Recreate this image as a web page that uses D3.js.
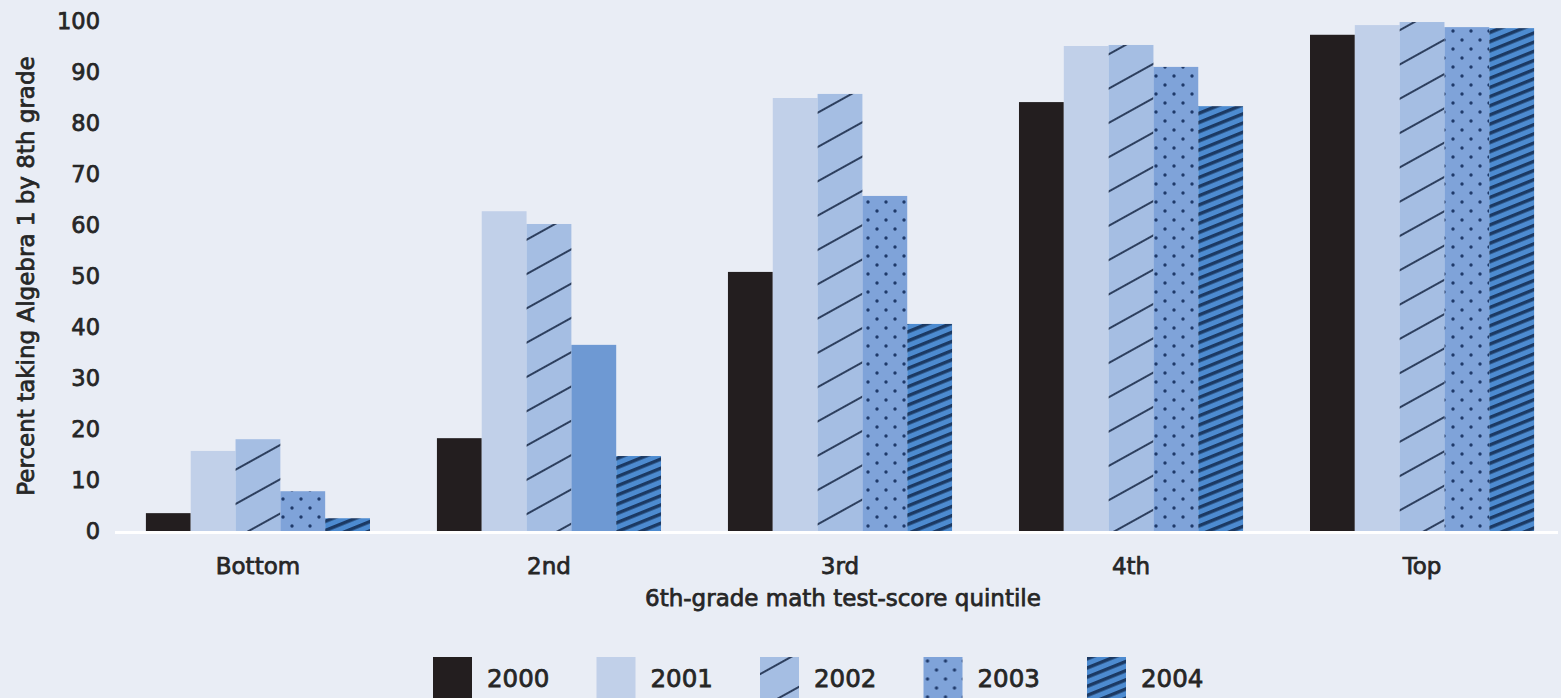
<!DOCTYPE html>
<html>
<head>
<meta charset="utf-8">
<script src="https://cdn.jsdelivr.net/npm/d3@7"></script>
<style>
  html, body { margin: 0; padding: 0; background: #e9edf5; }
  svg { display: block; }
  text { font-family: "DejaVu Sans", "Open Sans", sans-serif; fill: #262626; stroke: #262626; stroke-width: 0.75px; }
</style>
</head>
<body>
<div id="chart"></div>
<script>
var quintiles = ['Bottom', '2nd', '3rd', '4th', 'Top'];
var years = ['2000', '2001', '2002', '2003', '2004'];
var values2000 = [3.5, 18.2, 50.8, 84.1, 97.3];
var values2001 = [15.7, 62.7, 84.9, 95.1, 99.2];
var values2002 = [18.0, 60.2, 85.7, 95.3, 99.8];
var values2003 = [7.8, 36.5, 65.7, 91.0, 98.8];
var values2004 = [2.5, 14.7, 40.6, 83.3, 98.6];
var yTicks = [0, 10, 20, 30, 40, 50, 60, 70, 80, 90, 100];
// in the original the 2003 bar of the 2nd quintile has no dots
var plainBars = [['2nd', '2003']];

var series = [values2000, values2001, values2002, values2003, values2004];
var rows = [];
quintiles.forEach(function(q, i){
	years.forEach(function(y, j){
		rows.push({q: q, year: y, value: series[j][i]});
	});
});

var width = 1561, height = 698;

var svg = d3.select('#chart').append('svg')
	.attr('width', width)
	.attr('height', height);

var defs = svg.append('defs');

// 2002: light blue with thin dark diagonals
var p2 = defs.append('pattern')
	.attr('id', 'pat2002')
	.attr('patternUnits', 'userSpaceOnUse')
	.attr('width', 30).attr('height', 30)
	.attr('patternTransform', 'rotate(-29)');
p2.append('rect').attr('width', 30).attr('height', 30).attr('fill', '#a5bee3');
p2.append('line').attr('x1', 0).attr('x2', 30).attr('y1', 15).attr('y2', 15)
	.attr('stroke', '#2d3f5e').attr('stroke-width', 2);

// 2003: mid blue with staggered dots
var p3 = defs.append('pattern')
	.attr('id', 'pat2003')
	.attr('patternUnits', 'userSpaceOnUse')
	.attr('width', 18).attr('height', 18);
p3.append('rect').attr('width', 18).attr('height', 18).attr('fill', '#7fa3d9');
[[4, 4], [13, 13]].forEach(function(c){
	p3.append('circle').attr('cx', c[0]).attr('cy', c[1]).attr('r', 1.7).attr('fill', '#1f3a6a');
});

// 2004: blue with dense dark stripes
var p4 = defs.append('pattern')
	.attr('id', 'pat2004')
	.attr('patternUnits', 'userSpaceOnUse')
	.attr('width', 8.5).attr('height', 8.5)
	.attr('patternTransform', 'rotate(-22)');
p4.append('rect').attr('width', 8.5).attr('height', 8.5).attr('fill', '#4d8bd0');
p4.append('rect').attr('y', 0).attr('width', 8.5).attr('height', 3.4).attr('fill', '#1b3963');

var fills = {
	'2000': '#231e1f',
	'2001': '#c1d0e9',
	'2002': 'url(#pat2002)',
	'2003': 'url(#pat2003)',
	'2004': 'url(#pat2004)'
};
var plainFill = '#6e99d3';

var x0 = d3.scaleBand()
	.domain(quintiles)
	.range([120, 1560])
	.paddingInner(0.23)
	.paddingOuter(0.089);

var x1 = d3.scaleBand()
	.domain(years)
	.range([0, x0.bandwidth()]);

var y = d3.scaleLinear()
	.domain([0, 100])
	.range([531, 21]);

// baseline
svg.append('line')
	.attr('x1', 115).attr('x2', 1558)
	.attr('y1', y(0) + 1.5).attr('y2', y(0) + 1.5)
	.attr('stroke', '#ffffff')
	.attr('stroke-width', 3);

// bars
svg.append('g').selectAll('rect')
	.data(rows)
	.enter()
	.append('rect')
	.attr('x', function(d){ return x0(d.q) + x1(d.year); })
	.attr('y', function(d){ return y(d.value); })
	.attr('width', x1.bandwidth())
	.attr('height', function(d){ return y(0) - y(d.value); })
	.attr('fill', function(d){
		var plain = plainBars.some(function(p){ return p[0] == d.q && p[1] == d.year; });
		return plain ? plainFill : fills[d.year];
	});

// y axis
var yAxis = svg.append('g')
	.attr('transform', 'translate(101,0)')
	.call(d3.axisLeft(y).tickValues(yTicks).tickSize(0).tickPadding(1));
yAxis.select('.domain').remove();
yAxis.selectAll('text')
	.style('font-family', '"DejaVu Sans", sans-serif')
	.style('font-size', '22.5px')
	.style('fill', '#262626');

// x axis
var xAxis = svg.append('g')
	.attr('transform', 'translate(0,' + y(0) + ')')
	.call(d3.axisBottom(x0).tickSize(0).tickPadding(27));
xAxis.select('.domain').remove();
xAxis.selectAll('text')
	.style('font-family', '"DejaVu Sans", sans-serif')
	.style('font-size', '23px')
	.style('fill', '#262626');

svg.append('text')
	.attr('x', 843)
	.attr('y', 606)
	.attr('text-anchor', 'middle')
	.style('font-size', '23px')
	.text('6th-grade math test-score quintile');

svg.append('text')
	.attr('transform', 'translate(34,276) rotate(-90)')
	.attr('text-anchor', 'middle')
	.style('font-size', '23px')
	.text('Percent taking Algebra 1 by 8th grade');

// legend
var legend = svg.append('g').selectAll('g')
	.data(years)
	.enter()
	.append('g')
	.attr('transform', function(d, i){ return 'translate(' + (433 + i * 163.5) + ',657)'; });
legend.append('rect')
	.attr('width', 39)
	.attr('height', 41)
	.attr('fill', function(d){ return fills[d]; });
legend.append('text')
	.attr('x', 54)
	.attr('y', 30)
	.style('font-size', '24.5px')
	.text(function(d){ return d; });
</script>
</body>
</html>
